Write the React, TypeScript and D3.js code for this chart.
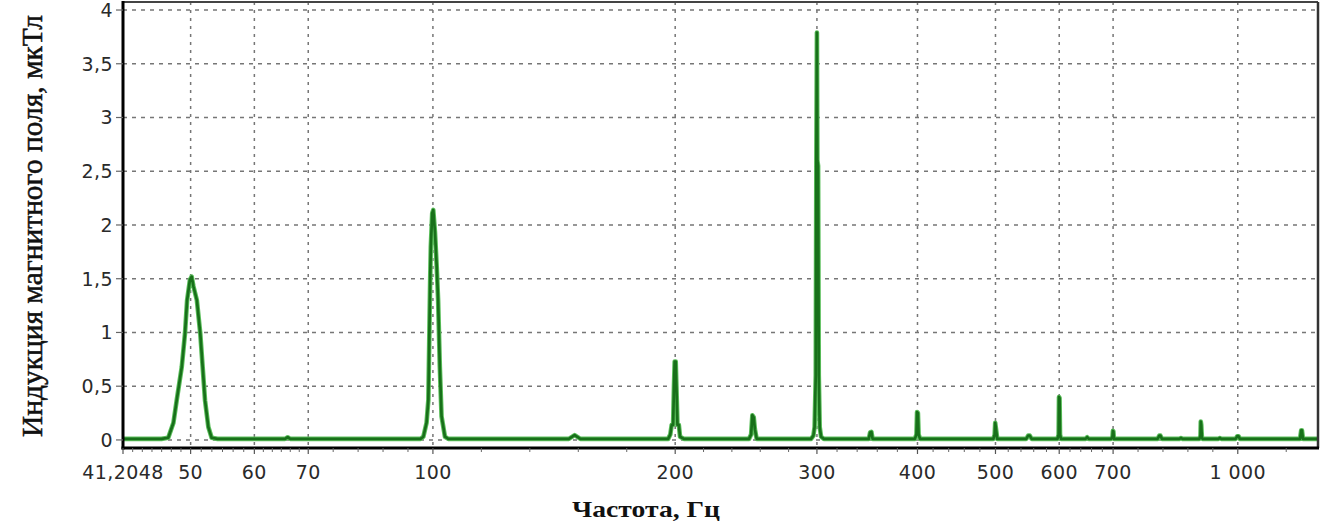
import React from 'react';
import * as d3 from 'd3';

// ---- data ----
const freqs: number[] = [
  41.2048, 46.0, 46.9, 47.6, 48.05, 48.75, 49.2, 49.5, 49.9, 50.15, 50.4, 50.9, 51.4, 51.75, 52.1, 52.6, 53.1, 54.0,
  65.5, 66.0, 66.5,
  96.5, 97.3, 98.2, 98.7, 99.2, 99.4, 99.8, 100.1, 100.6, 101.1, 101.5, 102.0, 102.5, 103.5, 104.5,
  147.5, 150.0, 152.5,
  196, 197.2, 198, 198.8, 199.3, 199.7, 200.3, 200.7, 201.3, 202.1, 202.8, 205,
  247, 248.5, 249.4, 250.4, 251.2, 252.5,
  295, 297, 298, 299, 299.5, 300, 300.4, 301, 301.6, 302.4, 303.6, 306,
  348, 349.3, 350.6, 351.8,
  397, 398.8, 399.5, 400.5, 401.3, 403,
  497, 498.8, 499.6, 500.4, 501.2, 502.5,
  546, 549, 551.5, 554.5,
  597, 599, 599.6, 600.6, 601.4, 603,
  647, 650, 653,
  696, 698.8, 699.6, 700.6, 701.6,
  795, 799, 801.5, 805,
  846, 850, 854,
  896, 898.8, 899.6, 900.8, 901.6, 902.6, 904.5,
  946, 950, 954,
  994, 998.5, 1002, 1006,
  1195, 1199, 1201.5, 1205,
  1258,
];
const values: number[] = [
  0.01, 0.01, 0.02, 0.16, 0.37, 0.68, 0.99, 1.30, 1.49, 1.52, 1.43, 1.30, 0.99, 0.68, 0.37, 0.12, 0.02, 0.01,
  0.01, 0.025, 0.01,
  0.01, 0.03, 0.16, 0.37, 1.46, 1.80, 2.11, 2.14, 1.93, 1.61, 1.30, 0.68, 0.22, 0.03, 0.01,
  0.01, 0.045, 0.01,
  0.01, 0.05, 0.14, 0.14, 0.50, 0.73, 0.73, 0.50, 0.14, 0.14, 0.03, 0.01,
  0.01, 0.05, 0.23, 0.21, 0.10, 0.01,
  0.01, 0.04, 0.12, 0.60, 2.60, 3.79, 2.60, 2.55, 0.60, 0.12, 0.03, 0.01,
  0.01, 0.07, 0.075, 0.01,
  0.01, 0.05, 0.26, 0.25, 0.05, 0.01,
  0.01, 0.05, 0.16, 0.12, 0.08, 0.01,
  0.01, 0.04, 0.04, 0.01,
  0.01, 0.05, 0.40, 0.39, 0.05, 0.01,
  0.01, 0.025, 0.01,
  0.01, 0.03, 0.085, 0.08, 0.01,
  0.01, 0.04, 0.04, 0.01,
  0.01, 0.018, 0.01,
  0.01, 0.04, 0.17, 0.14, 0.08, 0.02, 0.01,
  0.01, 0.018, 0.01,
  0.01, 0.035, 0.035, 0.01,
  0.01, 0.09, 0.09, 0.01,
  0.01,
];

const xTickValues: number[] = [41.2048, 50, 60, 70, 100, 200, 300, 400, 500, 600, 700, 1000];
const xTickLabels: string[] = ['41,2048', '50', '60', '70', '100', '200', '300', '400', '500', '600', '700', '1 000'];
const xGridValues: number[] = [50, 60, 70, 100, 200, 300, 400, 500, 600, 700, 1000];
const minorDivisions: number[] = [7, 6, 6, 5, 5, 5, 5, 5, 5, 5, 5];
const yTickValues: number[] = [0, 0.5, 1, 1.5, 2, 2.5, 3, 3.5, 4];
const yTickLabels: string[] = ['0', '0,5', '1', '1,5', '2', '2,5', '3', '3,5', '4'];

const xTitle = 'Частота, Гц';
const yTitle = 'Индукция магнитного поля, мкТл';

const W = 1328;
const H = 526;
const L = 123, R = 1318, T = 2, B = 448;

export default function App() {
  const x = d3.scaleLog().domain([41.2048, 1258]).range([L, R]);
  const y = d3.scaleLinear().domain([-0.075, 4.07]).range([B, 2.5]);

  const line = d3
    .line<number>()
    .x((_, i) => x(freqs[i]))
    .y((d) => y(d))
    .curve(d3.curveLinear);
  const pathD = line(values) || '';

  // minor ticks: divide each major interval into equal log parts
  const minorTicks: number[] = [];
  for (let i = 0; i < xTickValues.length - 1; i++) {
    const a = xTickValues[i], b = xTickValues[i + 1];
    const n = minorDivisions[i];
    for (let k = 1; k < n; k++) minorTicks.push(a * Math.pow(b / a, k / n));
  }
  minorTicks.push(1000 * Math.pow(2, 1 / 5));

  const tickFont = "'DejaVu Sans', 'Liberation Sans', Arial, sans-serif";
  const serif = "'Liberation Serif', 'Times New Roman', serif";

  return (
    <svg
      width={W}
      height={H}
      viewBox={`0 0 ${W} ${H}`}
      style={{ position: 'absolute', left: 0, top: 0, background: '#fff' }}
    >
      <defs>
        <clipPath id="plotclip">
          <rect x={L} y={T} width={R - L} height={B - T} />
        </clipPath>
      </defs>
      <rect x={0} y={0} width={W} height={H} fill="#fff" />

      {/* horizontal grid */}
      {yTickValues.map((v) => (
        <line
          key={'hg' + v}
          x1={L}
          x2={R}
          y1={y(v)}
          y2={y(v)}
          stroke="#767676"
          strokeWidth={1.5}
          strokeDasharray="4,5"
        />
      ))}
      {/* vertical grid */}
      {xGridValues.map((v) => (
        <line
          key={'vg' + v}
          x1={x(v)}
          x2={x(v)}
          y1={T}
          y2={B}
          stroke="#767676"
          strokeWidth={1.5}
          strokeDasharray="3,5"
        />
      ))}

      {/* spectrum line */}
      <g clipPath="url(#plotclip)">
        <path d={pathD} fill="none" stroke="#5cbf5c" strokeWidth={4.6} strokeLinejoin="round" />
        <path d={pathD} fill="none" stroke="#18701a" strokeWidth={2.7} strokeLinejoin="round" />
      </g>

      {/* frame */}
      <line x1={L} x2={R} y1={T} y2={T} stroke="#444" strokeWidth={2} />
      <line x1={R} x2={R} y1={T} y2={B} stroke="#333" strokeWidth={2.5} />
      <line x1={L} x2={L} y1={T - 1} y2={B + 1.5} stroke="#000" strokeWidth={3} />
      <line x1={L - 1.5} x2={R + 1} y1={B} y2={B} stroke="#000" strokeWidth={3} />

      {/* y ticks and labels */}
      {yTickValues.map((v, i) => (
        <g key={'yt' + v}>
          <line x1={L - 7} x2={L} y1={y(v)} y2={y(v)} stroke="#666" strokeWidth={1.2} />
          <text
            x={113}
            y={y(v)}
            dy="0.36em"
            textAnchor="end"
            fontFamily={tickFont}
            fontSize={19}
            letterSpacing={0.4}
            fill="#2a2a2a"
          >
            {yTickLabels[i]}
          </text>
        </g>
      ))}

      {/* x minor ticks */}
      {minorTicks.map((v, i) => (
        <line key={'mt' + i} x1={x(v)} x2={x(v)} y1={B} y2={B + 4} stroke="#666" strokeWidth={1} />
      ))}
      {/* x major ticks and labels */}
      {xTickValues.map((v, i) => (
        <g key={'xt' + v}>
          <line x1={x(v)} x2={x(v)} y1={B} y2={B + 6} stroke="#555" strokeWidth={1.2} />
          <text
            x={x(v)}
            y={479}
            textAnchor="middle"
            fontFamily={tickFont}
            fontSize={19}
            letterSpacing={0.4}
            fill="#2a2a2a"
          >
            {xTickLabels[i]}
          </text>
        </g>
      ))}

      {/* axis titles */}
      <text
        x={646}
        y={517}
        textAnchor="middle"
        fontFamily={serif}
        fontWeight="bold"
        fontSize={24}
        fill="#111"
        textLength={148}
        lengthAdjust="spacingAndGlyphs"
      >
        {xTitle}
      </text>
      <text
        transform="translate(42,226) rotate(-90)"
        textAnchor="middle"
        fontFamily={serif}
        fontSize={29}
        fill="#111"
        stroke="#111"
        strokeWidth={0.5}
        textLength={422}
        lengthAdjust="spacingAndGlyphs"
      >
        {yTitle}
      </text>
    </svg>
  );
}
